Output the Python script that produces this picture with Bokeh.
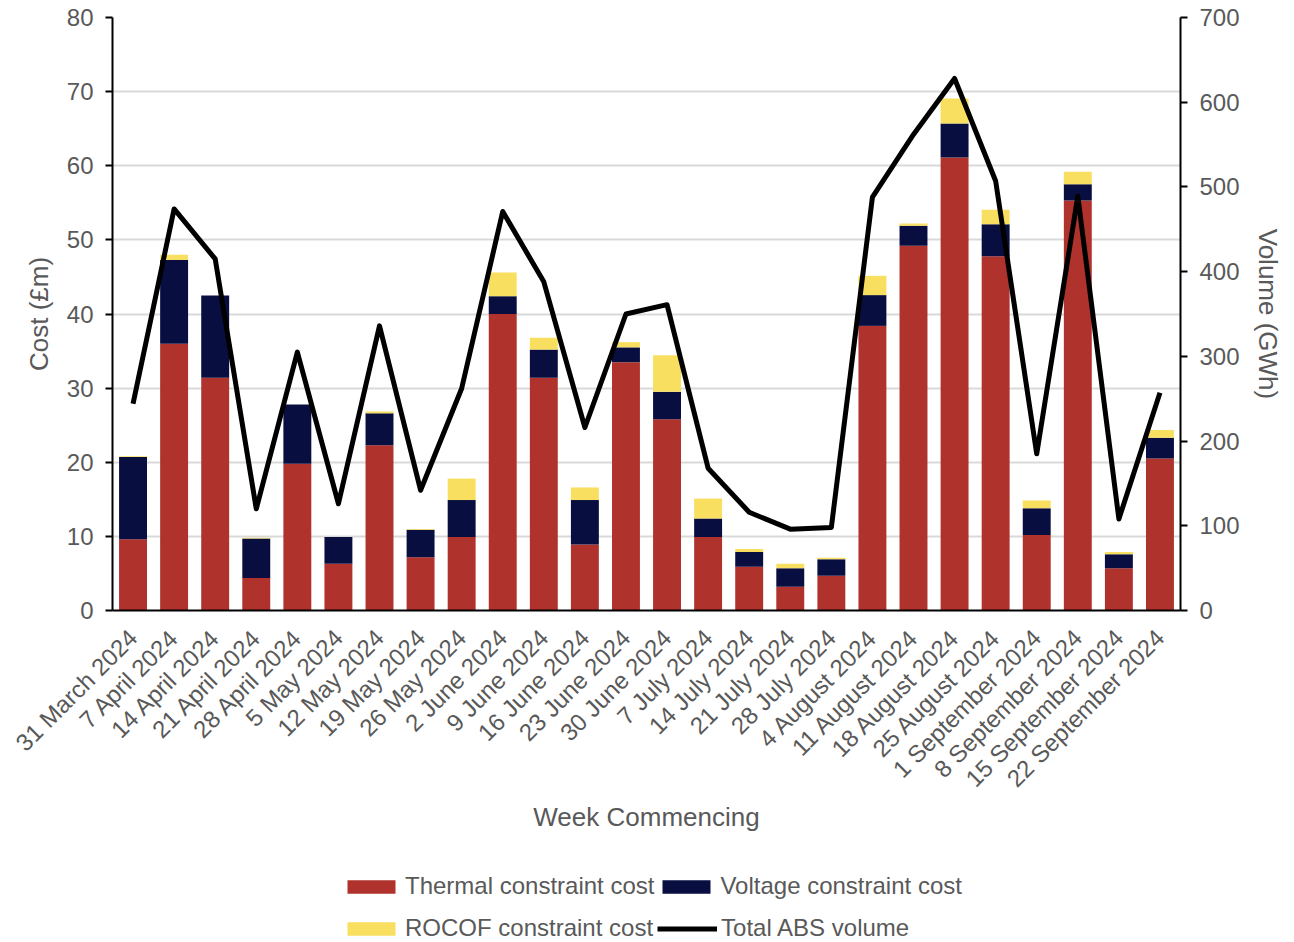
from math import pi

from bokeh.embed import file_html
from bokeh.layouts import column
from bokeh.models import (ColumnDataSource, FactorRange, Legend, LegendItem,
                          LinearAxis, Range1d, SingleIntervalTicker)
from bokeh.plotting import figure
from bokeh.resources import INLINE

# Weekly balancing costs (£m) by constraint type and total ABS volume (GWh)
weeks = [
    "31 March 2024", "7 April 2024", "14 April 2024", "21 April 2024",
    "28 April 2024", "5 May 2024", "12 May 2024", "19 May 2024",
    "26 May 2024", "2 June 2024", "9 June 2024", "16 June 2024",
    "23 June 2024", "30 June 2024", "7 July 2024", "14 July 2024",
    "21 July 2024", "28 July 2024", "4 August 2024", "11 August 2024",
    "18 August 2024", "25 August 2024", "1 September 2024",
    "8 September 2024", "15 September 2024", "22 September 2024",
]
thermal = [9.6, 36.0, 31.4, 4.4, 19.8, 6.3, 22.3, 7.2, 9.9, 40.0, 31.4, 8.9, 33.5,
           25.8, 9.9, 5.9, 3.2, 4.7, 38.4, 49.2, 61.1, 47.8, 10.2, 55.3, 5.7, 20.5]
voltage = [11.1, 11.3, 11.1, 5.3, 8.0, 3.6, 4.3, 3.7, 5.0, 2.4, 3.8, 6.0, 2.0,
           3.7, 2.5, 2.0, 2.5, 2.2, 4.15, 2.7, 4.6, 4.3, 3.6, 2.2, 1.9, 2.8]
rocof = [0.1, 0.7, 0.0, 0.1, 0.0, 0.0, 0.25, 0.1, 2.9, 3.2, 1.6, 1.7, 0.7,
         4.95, 2.7, 0.4, 0.6, 0.2, 2.6, 0.3, 3.37, 1.97, 1.05, 1.7, 0.3, 1.06]
volume = [244, 474, 415, 120, 305, 126, 336, 142, 262, 471, 388, 216, 350,
          361, 168, 116, 96, 98, 488, 562, 628, 507, 185, 489, 108, 257]

series_labels = ["Thermal constraint cost", "Voltage constraint cost",
                 "ROCOF constraint cost", "Total ABS volume"]

cost_ticks = 10
volume_ticks = 100

FONT = "Liberation Sans"
GREY = "#595959"
RED = "#B0322C"
NAVY = "#080E40"
YELLOW = "#F8DF5F"
COLORS = [RED, NAVY, YELLOW]
STACK = ["thermal", "voltage", "rocof"]

source = ColumnDataSource(dict(week=weeks, thermal=thermal, voltage=voltage,
                               rocof=rocof, volume=volume))

# ---- main chart -----------------------------------------------------------
p = figure(
    x_range=FactorRange(*weeks),
    y_range=Range1d(0, 80),
    width=1294, height=860,
    output_backend="svg", toolbar_location=None,
    min_border_left=112, min_border_right=114,
    min_border_top=17, min_border_bottom=250,
)
p.outline_line_color = None
p.background_fill_color = "white"
p.border_fill_color = "white"

p.vbar_stack(STACK, x="week", width=0.68, color=COLORS, line_color=None,
             source=source)

p.extra_y_ranges = {"vol": Range1d(0, 700)}
p.line("week", "volume", source=source, y_range_name="vol",
       line_color="black", line_width=5, line_join="round")

# left axis: cost
left = p.yaxis[0]
left.ticker = SingleIntervalTicker(interval=cost_ticks)
left.axis_label = "Cost (£m)"

# right axis: volume
right = LinearAxis(y_range_name="vol",
                   ticker=SingleIntervalTicker(interval=volume_ticks),
                   axis_label="Volume (GWh)")
p.add_layout(right, "right")

for ax in (left, right):
    ax.axis_line_color = "black"
    ax.axis_line_width = 2
    ax.major_tick_line_color = "black"
    ax.major_tick_line_width = 2
    ax.major_tick_out = 7
    ax.major_tick_in = 0
    ax.minor_tick_line_color = None
    ax.major_label_standoff = 12
    ax.axis_label_standoff = 10

xa = p.xaxis[0]
xa.axis_label = "Week Commencing"
xa.axis_line_color = "black"
xa.axis_line_width = 2
xa.major_tick_line_color = None
xa.minor_tick_line_color = None
xa.major_label_orientation = pi / 4
xa.major_label_standoff = 17
xa.axis_label_standoff = -3

for ax in (left, right, xa):
    ax.major_label_text_font = FONT
    ax.major_label_text_color = GREY
    ax.major_label_text_font_size = "24px"
    ax.axis_label_text_font = FONT
    ax.axis_label_text_color = GREY
    ax.axis_label_text_font_style = "normal"
    ax.axis_label_text_font_size = "26px"

p.xgrid.grid_line_color = None
p.ygrid.ticker = SingleIntervalTicker(interval=cost_ticks)
p.ygrid.grid_line_color = "#D9D9D9"
p.ygrid.grid_line_width = 2

# ---- legend strip under the chart -----------------------------------------
key = figure(
    width=1294, height=82, x_range=Range1d(0, 1), y_range=Range1d(0, 1),
    output_backend="svg", toolbar_location=None,
    x_axis_type=None, y_axis_type=None, min_border=0,
)
key.outline_line_color = None
key.xgrid.visible = False
key.ygrid.visible = False

# key glyphs carry only the styling; their single NaN row draws nothing
nan = float("nan")
key_src = ColumnDataSource(dict(x=[nan], top=[nan], y=[nan]))
key_items = []
for label, color in zip(series_labels[:3], COLORS):
    r = key.vbar(x="x", top="top", width=1, color=color, line_color=None,
                 source=key_src)
    key_items.append(LegendItem(label=label, renderers=[r]))
r = key.line("x", "y", line_color="black", line_width=5, source=key_src)
key_items.append(LegendItem(label=series_labels[3], renderers=[r]))

# two rows of two entries each
for row, offset, gap in ((key_items[:2], 42, 2), (key_items[2:], 0, 4)):
    legend = Legend(
        items=row,
        orientation="horizontal", location=(229, offset),
        glyph_width=60, glyph_height=17, label_standoff=4, spacing=gap,
        label_height=28, padding=0, margin=0,
        label_text_font=FONT, label_text_font_size="24px",
        label_text_color=GREY,
        border_line_color=None, background_fill_alpha=0,
    )
    key.add_layout(legend, "center")

page = column(p, key, spacing=0)
open("out.html", "w").write(file_html(page, INLINE))
